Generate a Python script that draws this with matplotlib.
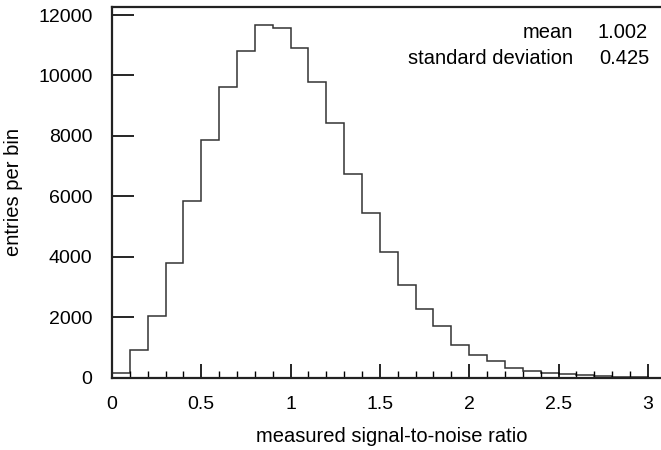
import numpy as np
import matplotlib
matplotlib.use("Agg")
import matplotlib.pyplot as plt

# histogram bins (width 0.1) and counts
bin_edges = np.round(np.arange(0, 3.01, 0.1), 2)
counts = [150, 920, 2050, 3800, 5840, 7850, 9620, 10800, 11660, 11580,
          10920, 9770, 8420, 6750, 5450, 4160, 3070, 2260, 1690, 1090,
          740, 550, 330, 210, 165, 110, 76, 66, 25, 15]

plt.rcParams['font.family'] = ['Liberation Sans', 'DejaVu Sans']
plt.rcParams['font.size'] = 14

fig = plt.figure(figsize=(6.61, 4.5), dpi=100)
ax = fig.add_axes([112/661, 1-377.5/450, 548/661, 370.5/450])

ax.stairs(counts, bin_edges, color='#333333', linewidth=1.1)

ax.set_xlim(0, 548/178.6)
ax.set_ylim(0, 12265)
ax.set_xticks([0, 0.5, 1, 1.5, 2, 2.5, 3])
ax.set_xticklabels(['0', '0.5', '1', '1.5', '2', '2.5', '3'])
ax.set_xticks(np.arange(0, 3.05, 0.1), minor=True)
ax.set_yticks(np.arange(0, 12001, 2000))
ax.tick_params(axis='x', which='major', direction='in', length=10, width=1.2, pad=13)
ax.tick_params(axis='x', which='minor', direction='in', length=5, width=1.0)
ax.tick_params(axis='y', which='major', direction='in', length=16, width=1.2, pad=14)
ax.spines['right'].set_visible(False)
for s in ['left', 'top', 'bottom']:
    ax.spines[s].set_linewidth(1.6)
    ax.spines[s].set_color('#222222')

# axis titles placed in figure pixels
fig.text(392/661, 1-437/450, 'measured signal-to-noise ratio', ha='center', va='center', fontsize=14.5)
fig.text(14/661, 1-192/450, 'entries per bin', ha='center', va='center', rotation=90, fontsize=14.5)

fig.text(573/661, 1-32/450, 'mean', ha='right', va='center', fontsize=14.5)
fig.text(648/661, 1-32/450, '1.002', ha='right', va='center', fontsize=14.5)
fig.text(573/661, 1-58/450, 'standard deviation', ha='right', va='center', fontsize=14.5)
fig.text(650/661, 1-58/450, '0.425', ha='right', va='center', fontsize=14.5)

fig.savefig('out.png', dpi=100)
